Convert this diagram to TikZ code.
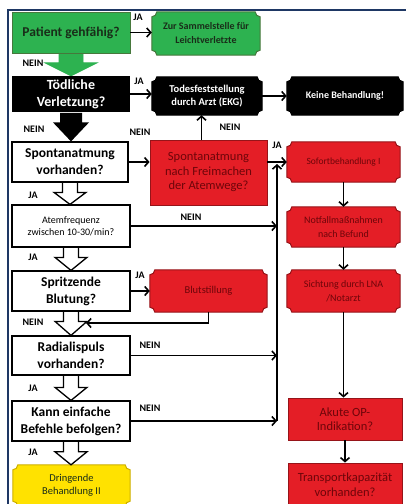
\documentclass[tikz,border=0pt]{standalone}
\usepackage{fontspec}
\setmainfont{Carlito}
\usetikzlibrary{arrows.meta,calc,backgrounds}
\definecolor{gr}{RGB}{45,178,80}
\definecolor{grd}{RGB}{70,120,60}
\definecolor{gtx}{RGB}{25,45,25}
\definecolor{rd}{RGB}{228,30,38}
\definecolor{rdd}{RGB}{150,20,25}
\definecolor{rtx}{RGB}{110,5,10}
\definecolor{yl}{RGB}{255,226,0}
\definecolor{yld}{RGB}{205,175,0}
\definecolor{fr}{RGB}{30,55,100}
\newcommand\plq[3]{%
  \path[fill=#2,draw=#3,line width=1pt]
  ([xshift=5pt]#1.north west) -- ([xshift=-5pt]#1.north east)
  arc[start angle=180,end angle=270,radius=5pt]
  -- ([yshift=5pt]#1.south east)
  arc[start angle=90,end angle=180,radius=5pt]
  -- ([xshift=5pt]#1.south west)
  arc[start angle=0,end angle=90,radius=5pt]
  -- ([yshift=-5pt]#1.north west)
  arc[start angle=270,end angle=360,radius=5pt] -- cycle;}
\newcommand\barw[6]{%
  \path[#3] let \p1=(#1.south), \p2=(#2.north) in
  (\x1-#4,\y1-0.6pt) -- (\x1-#4,\y2+#6) -- (\x1-#5,\y2+#6) -- (\x1,\y2)
  -- (\x1+#5,\y2+#6) -- (\x1+#4,\y2+#6) -- (\x1+#4,\y1-0.6pt);}
\tikzset{
  sz/.style 2 args={minimum width=#1pt,minimum height=#2pt},
  q/.style={draw=black,line width=1.2pt,fill=white,align=center,inner sep=0pt,
    font=\bfseries\fontsize{13.5}{17}\selectfont},
  gq/.style={fill=gr,draw=grd,line width=0.8pt,text=gtx,align=center,inner sep=0pt,
    font=\bfseries\fontsize{13.5}{17}\selectfont},
  bq/.style={fill=black,text=white,align=center,inner sep=0pt,
    font=\bfseries\fontsize{14}{17}\selectfont},
  rq/.style={fill=rd,draw=rdd,line width=0.8pt,text=rtx,align=center,inner sep=0pt,
    font=\fontsize{12.5}{14.5}\selectfont},
  pl/.style={align=center,inner sep=0pt,font=\fontsize{10}{13.5}\selectfont},
  lab/.style={font=\bfseries\fontsize{10}{12}\selectfont,inner sep=0pt},
  arr/.style={line width=1.6pt,-{Straight Barb[length=4pt,width=9pt]}},
  oarw/.style={fill=white,draw=black,line width=1.3pt,line join=miter},
}
\begin{document}
\begin{tikzpicture}[x=1pt,y=-1pt]
\useasboundingbox (0,0) rectangle (405,504);
% left column
\node[gq,sz={118}{41}] (pat) at (71,32.5) {Patient gehfähig?};
\node[bq,sz={118}{36}] (tod) at (71,94) {Tödliche\\Verletzung?};
\node[q,sz={116}{40}] (spon) at (70,162) {Spontanatmung\\vorhanden?};
\node[q,sz={118}{42},font=\fontsize{10}{12}\selectfont] (atem) at (71,226) {Atemfrequenz\\zwischen 10-30/min?};
\node[q,sz={118}{40}] (spr) at (71,291) {Spritzende\\Blutung?};
\node[q,sz={118}{39}] (rad) at (71,355.5) {Radialispuls\\vorhanden?};
\node[q,sz={118}{40}] (kann) at (71,421) {Kann einfache\\Befehle befolgen?};
\node[pl,sz={117}{41},text=gtx,font=\fontsize{10.5}{13.5}\selectfont] (dring) at (71.5,485.5) {Dringende\\Behandlung II};
% middle column
\node[pl,sz={108}{43},text=gtx,font=\bfseries\fontsize{10}{14}\selectfont] (sam) at (206,33.5) {Zur Sammelstelle für\\Leichtverletzte};
\node[pl,sz={110}{38},text=white,font=\bfseries\fontsize{10.5}{13.5}\selectfont] (tfs) at (207,96) {Todesfeststellung\\durch Arzt (EKG)};
\node[rq,sz={117}{65}] (red1) at (208.5,172.5) {Spontanatmung\\nach Freimachen\\der Atemwege?};
\node[pl,sz={117}{42},text=rtx,font=\fontsize{10.5}{13.5}\selectfont] (blut) at (208.5,291) {Blutstillung};
% right column
\node[pl,sz={116}{38},text=white,font=\bfseries\fontsize{10}{13.5}\selectfont] (keine) at (345,96) {Keine Behandlung!};
\node[pl,sz={113}{40},text=rtx,font=\fontsize{9.5}{13.5}\selectfont] (sof) at (343.5,162) {Sofortbehandlung I};
\node[pl,sz={113}{40},text=rtx] (notf) at (343.5,227) {Notfallmaßnahmen\\nach Befund};
\node[pl,sz={113}{42},text=rtx] (sich) at (343.5,291) {Sichtung durch LNA\\/Notarzt};
\node[rq,sz={114}{42}] (akute) at (345,419) {Akute OP-\\Indikation?};
\node[rq,sz={114}{43}] (trans) at (345,484.5) {Transportkapazität\\vorhanden?};
% plaque shapes and frame
\begin{scope}[on background layer]
\fill[white] (0,0) rectangle (405,504);
\draw[fr,line width=2pt] (8,505) -- (8,10) -- (406,10);
\plq{sam}{gr}{grd}
\plq{tfs}{black}{black}
\plq{keine}{black}{black}
\plq{sof}{rd}{rdd}
\plq{notf}{rd}{rdd}
\plq{sich}{rd}{rdd}
\plq{blut}{rd}{rdd}
\plq{dring}{yl}{yld}
\barw{pat}{tod}{fill=gr,draw=gr,line width=0.8pt}{12pt}{26pt}{13pt}
\end{scope}
% block arrows
\barw{tod}{spon}{fill=black}{11pt}{18pt}{19pt}
\barw{spon}{atem}{oarw}{7.5pt}{16pt}{12pt}
\barw{atem}{spr}{oarw}{7.5pt}{16pt}{13pt}
\barw{spr}{rad}{oarw}{7.5pt}{16pt}{14pt}
\barw{rad}{kann}{oarw}{7.5pt}{16pt}{13pt}
\barw{kann}{dring}{oarw}{7.5pt}{16pt}{13pt}
% connectors
\coordinate (bt) at (277,164);
\coordinate (ret) at (86,323);
\draw[arr] (pat.east) -- (pat.east -| sam.west);
\draw[arr] (tod.east) -- (tod.east -| tfs.west);
\draw[arr] (tfs.east) -- (keine.west);
\draw[arr] (spon.east) -- (spon.east -| red1.west);
\draw[arr] ([xshift=-7pt]red1.north) -- ([xshift=-7pt]red1.north |- tfs.south);
\draw[arr] (red1.east |- sof.west) -- (sof.west);
\draw[arr] (sof.south) -- (notf.north);
\draw[arr] (notf.south) -- (sich.north);
\draw[arr] (sich.south) -- (sich.south |- akute.north);
\draw[arr] (akute.south) -- (akute.south |- trans.north);
\draw[arr] (spr.east) -- (spr.east -| blut.west);
\draw[arr] (blut.south) |- (ret);
\draw[arr] (atem.east) -- (atem.east -| bt);
\draw[arr] (rad.east) -- (rad.east -| bt);
\draw[arr] (kann.east) -- (kann.east -| bt);
\draw[arr] (kann.east -| bt) -- (bt);
% labels
\node[lab] (l1) at (138,17) {JA};
\node[lab] (l2) at (33,63) {NEIN};
\node[lab] (l3) at (139,81) {JA};
\node[lab] (l4) at (34,129) {NEIN};
\node[lab] (l5) at (140,132) {NEIN};
\node[lab] (l6) at (230,127) {NEIN};
\node[lab] (l7) at (277,145) {JA};
\node[lab] (l8) at (33,195) {JA};
\node[lab] (l9) at (191,217) {NEIN};
\node[lab] (l10) at (33,257) {JA};
\node[lab] (l11) at (140,275) {JA};
\node[lab] (l12) at (33,322) {NEIN};
\node[lab] (l13) at (150,345) {NEIN};
\node[lab] (l14) at (33,388) {JA};
\node[lab] (l15) at (150,408) {NEIN};
\node[lab] (l16) at (33,452) {JA};
\end{tikzpicture}
\end{document}
